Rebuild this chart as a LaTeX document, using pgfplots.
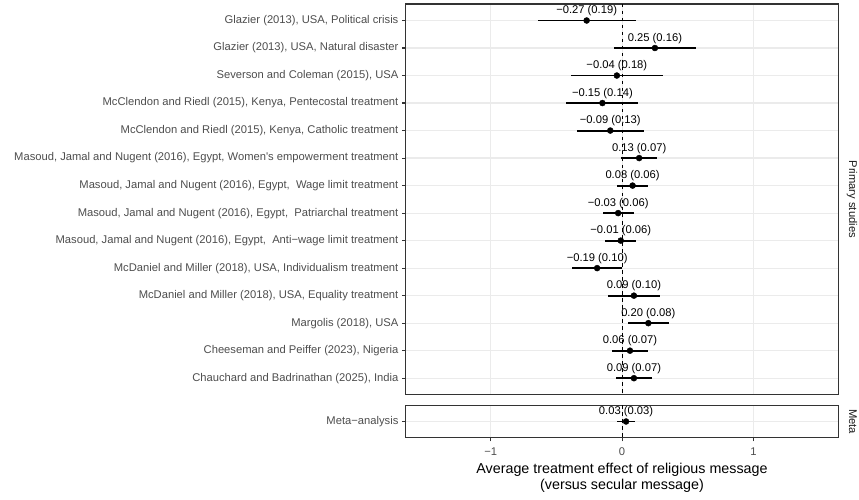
\documentclass[border=0pt]{standalone}
\usepackage{fontspec}
\setmainfont{Liberation Sans}[Ligatures=TeXOff]
\usepackage{pgfplots}
\pgfplotsset{compat=1.18}
\usepackage{pgfplotstable}
\definecolor{gridc}{RGB}{235,235,235}
\definecolor{grey20}{RGB}{51,51,51}
\definecolor{grey30}{RGB}{77,77,77}
\definecolor{grey10}{RGB}{26,26,26}
\newcommand{\sm}{\fontsize{11.2}{13}\selectfont}
\newcommand{\tit}{\fontsize{14.3}{17}\selectfont}

\pgfplotstableread[col sep=comma]{
y,est,ci,lab
1,-0.27,0.3724,−0.27 (0.19)
2,0.25,0.3136,0.25 (0.16)
3,-0.04,0.3528,−0.04 (0.18)
4,-0.15,0.2744,−0.15 (0.14)
5,-0.09,0.2548,−0.09 (0.13)
6,0.13,0.1372,0.13 (0.07)
7,0.08,0.1176,0.08 (0.06)
8,-0.03,0.1176,−0.03 (0.06)
9,-0.01,0.1176,−0.01 (0.06)
10,-0.19,0.190,−0.19 (0.10)
11,0.09,0.196,0.09 (0.10)
12,0.20,0.1568,0.20 (0.08)
13,0.06,0.1372,0.06 (0.07)
14,0.09,0.1372,0.09 (0.07)
}\primary

\pgfplotstableread[col sep=comma]{
y,est,ci,lab
1,0.03,0.067,0.03 (0.03)
}\meta

\pgfplotsset{
  forest/.style={
    scale only axis, width=433.2pt, anchor=south west,
    xmin=-1.65, xmax=1.65, y dir=reverse,
    xtick={-1,0,1}, xticklabels={},
    grid=major, major grid style={gridc, line width=1.2pt},
    axis line style={grey20, line width=1.1pt},
    tick align=outside, major tick length=3.6pt,
    tick style={grey20, line width=1.1pt},
    ytick pos=left, xtick pos=lower,
    yticklabel style={font=\sm, text=grey30},
  },
  ebar/.style={only marks, mark=*, mark size=3pt, black,
    mark options={fill=black, draw=black},
    error bars/.cd, x dir=both, x explicit, error mark=none,
    error bar style={line width=1.9pt, black}},
  lbl/.style={draw=none, mark=none, nodes near coords, point meta=explicit symbolic,
    nodes near coords style={font=\sm, text=black, anchor=center, yshift=9.6pt, inner sep=0pt}},
}

\begin{document}
\begin{tikzpicture}
\useasboundingbox (0,0) rectangle (859pt,500pt);
\begin{axis}[forest, at={(405.5pt,105.3pt)}, height=390.7pt,
  ymin=0.4, ymax=14.6,
  x tick style={draw=none},
  ytick={1,...,14},
  yticklabels={
    {Glazier (2013), USA, Political crisis},
    {Glazier (2013), USA, Natural disaster},
    {Severson and Coleman (2015), USA},
    {McClendon and Riedl (2015), Kenya, Pentecostal treatment},
    {McClendon and Riedl (2015), Kenya, Catholic treatment},
    {Masoud, Jamal and Nugent (2016), Egypt, Women's empowerment treatment},
    {Masoud, Jamal and Nugent (2016), Egypt,\ \ Wage limit treatment},
    {Masoud, Jamal and Nugent (2016), Egypt,\ \ Patriarchal treatment},
    {Masoud, Jamal and Nugent (2016), Egypt,\ \ Anti−wage limit treatment},
    {McDaniel and Miller (2018), USA, Individualism treatment},
    {McDaniel and Miller (2018), USA, Equality treatment},
    {Margolis (2018), USA},
    {Cheeseman and Peiffer (2023), Nigeria},
    {Chauchard and Badrinathan (2025), India}
  }]
\addplot[ebar] table[x=est, y=y, x error=ci] {\primary};
\addplot[lbl] table[x=est, y=y, meta=lab] {\primary};
\addplot[black, line width=0.6pt, dash pattern=on 3.5pt off 3.5pt] coordinates {(0,0.4) (0,14.6)};
\end{axis}
\begin{axis}[forest, at={(405.5pt,62.3pt)}, height=32.4pt,
  ymin=0.4, ymax=1.6,
  ytick={1}, yticklabels={Meta−analysis}]
\addplot[ebar] table[x=est, y=y, x error=ci] {\meta};
\addplot[lbl] table[x=est, y=y, meta=lab] {\meta};
\addplot[black, line width=0.6pt, dash pattern=on 3.5pt off 3.5pt] coordinates {(0,0.4) (0,1.6)};
\end{axis}
\node[anchor=base, font=\sm, text=grey30] at (490.8pt,44pt) {−1};
\node[anchor=base, font=\sm, text=grey30] at (622.1pt,44pt) {0};
\node[anchor=base, font=\sm, text=grey30] at (753.4pt,44pt) {1};
\node[rotate=-90, anchor=base, font=\sm, text=grey10] at (849pt,300.7pt) {Primary studies};
\node[rotate=-90, anchor=base, font=\sm, text=grey10] at (849pt,78.5pt) {Meta};
\node[anchor=base, font=\tit] at (622pt,26pt) {Average treatment effect of religious message};
\node[anchor=base, font=\tit] at (622pt,10.7pt) {(versus secular message)};
\end{tikzpicture}
\end{document}
